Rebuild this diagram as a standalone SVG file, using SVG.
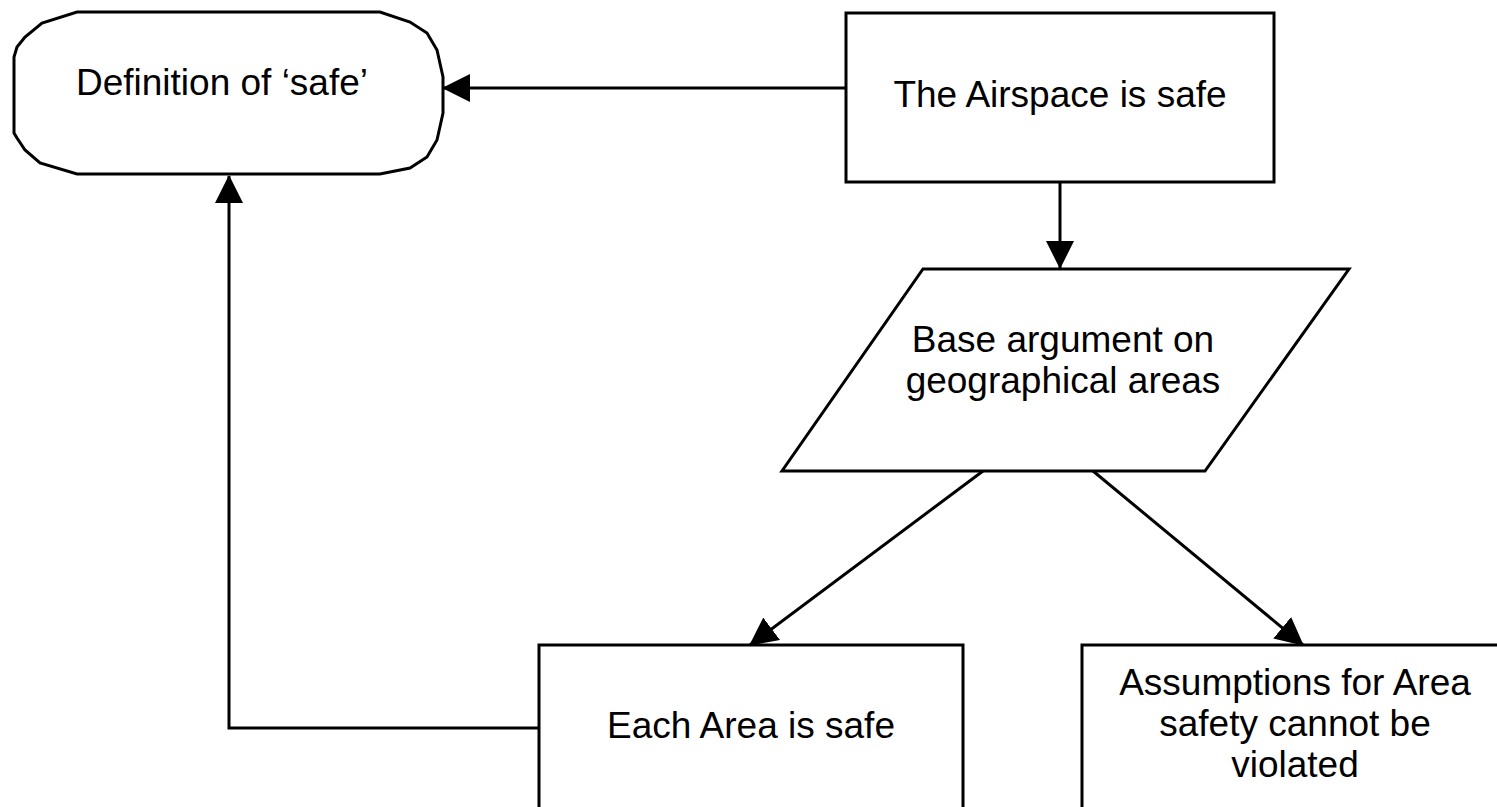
<svg xmlns="http://www.w3.org/2000/svg" width="1497" height="807" viewBox="0 0 1497 807">
  <style>
    .shape { fill: #ffffff; stroke: #000000; stroke-width: 3; stroke-linejoin: miter; }
    .label { font-family: "Liberation Sans", Arial, sans-serif; font-size: 37px; fill: #000000; text-anchor: middle; }
    .conn { fill: none; stroke: #000000; stroke-width: 3; marker-end: url(#arrow); }
  </style>
  <defs>
    <marker id="arrow" markerUnits="userSpaceOnUse" markerWidth="28" markerHeight="28" refX="27" refY="14" orient="auto" viewBox="0 0 28 28">
      <path d="M0,0 L28,14 L0,28 Z" fill="#000000"/>
    </marker>
  </defs>
  <rect width="1497" height="807" fill="#ffffff"/>

  <g id="definition-safe">
    <polygon class="shape" points="77,12 380,12 410,22 427,33 437,50 443,77 443,113 437,140 427,157 410,168 380,174 77,174 40,163 25,150 17,138 14,133 14,57 17,47 25,37 42,23"/>
    <text class="label" x="222" y="95">Definition of ‘safe’</text>
  </g>

  <g id="airspace-safe">
    <rect class="shape" x="846" y="13" width="428" height="169"/>
    <text class="label" x="1060" y="107">The Airspace is safe</text>
  </g>

  <g id="base-argument">
    <polygon class="shape" points="923,269 1349,269 1205,471 782,471"/>
    <text class="label" x="1063" y="352">Base argument on</text>
    <text class="label" x="1063" y="393">geographical areas</text>
  </g>

  <g id="each-area-safe">
    <rect class="shape" x="539" y="645" width="424" height="200"/>
    <text class="label" x="751" y="738">Each Area is safe</text>
  </g>

  <g id="assumptions">
    <rect class="shape" x="1082" y="645" width="440" height="200"/>
    <text class="label" x="1295" y="695">Assumptions for Area</text>
    <text class="label" x="1295" y="736">safety cannot be</text>
    <text class="label" x="1295" y="777">violated</text>
  </g>

  <g id="connectors">
    <path class="conn" d="M846,88 L443,88"/>
    <path class="conn" d="M1060,182 L1060,268"/>
    <path class="conn" d="M983,471 L750,645"/>
    <path class="conn" d="M1093,471 L1303,645"/>
    <path class="conn" d="M539,728 L229,728 L229,176"/>
  </g>
</svg>
